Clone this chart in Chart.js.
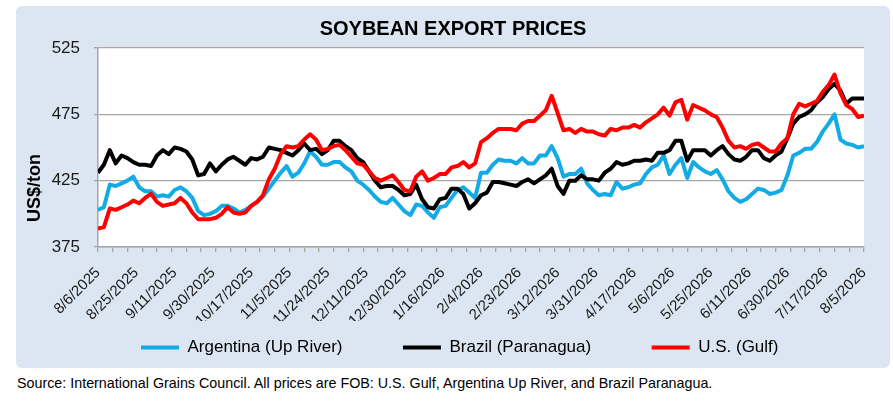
<!DOCTYPE html>
<html>
<head>
<meta charset="utf-8">
<title>Soybean Export Prices</title>
<script src="https://cdn.jsdelivr.net/npm/chart.js@4.4.1/dist/chart.umd.min.js"></script>
<style>
    html, body { margin: 0; padding: 0; background: #ffffff; }
    body { width: 893px; height: 401px; position: relative; overflow: hidden; font-family: 'Liberation Sans', Arial, sans-serif; }
    #panel { position: absolute; left: 16px; top: 6px; width: 874px; height: 362px; background: #dce6f2; border-radius: 6px; }
    #source { position: absolute; left: 17px; top: 375px; font-size: 14.3px; line-height: 16px; color: #000000; white-space: nowrap; }
</style>
</head>
<body>
<div id="panel"><canvas id="soyChart" width="874" height="362"></canvas></div>
<div id="source">Source: International Grains Council. All prices are FOB: U.S. Gulf, Argentina Up River, and Brazil Paranagua.</div>
<script>
// date labels shown on the x axis (one every 13 business days)
const tickLabels = ['8/6/2025', '8/25/2025', '9/11/2025', '9/30/2025', '10/17/2025', '11/5/2025',
    '11/24/2025', '12/11/2025', '12/30/2025', '1/16/2026', '2/4/2026', '2/23/2026', '3/12/2026',
    '3/31/2026', '4/17/2026', '5/6/2026', '5/25/2026', '6/11/2026', '6/30/2026', '7/17/2026', '8/5/2026'];
const labelEvery = 13;   // business days between date labels
const tickEvery = 5;     // business days between tick marks
const lastDay = 260;     // business-day index of 8/5/2026
const sampleStep = 2;    // values below are read every 2nd business day

const seriesNames = ['Argentina (Up River)', 'Brazil (Paranagua)', 'U.S. (Gulf)'];

// US$/ton
const argentina = [
    403, 405, 422, 421, 423, 425, 428, 420, 417, 417,
    413, 414, 413, 418, 420, 417, 412, 402, 399, 400,
    402, 406, 406, 404, 401, 403, 406, 409, 413, 419,
    425, 431, 436, 428, 431, 438, 447, 443, 437, 437,
    439, 439, 435, 432, 425, 422, 418, 413, 409, 408,
    412, 407, 402, 399, 407, 406, 401, 397, 405, 406,
    412, 418, 420, 416, 412, 431, 431, 437, 441, 440,
    440, 438, 442, 438, 438, 444, 444, 451, 442, 428,
    430, 430, 434, 423, 418, 414, 415, 414, 424, 419,
    420, 422, 423, 430, 435, 437, 444, 430, 437, 442,
    427, 439, 435, 432, 430, 433, 426, 417, 412, 409,
    411, 415, 419, 418, 415, 416, 418, 429, 444, 446,
    449, 449, 454, 462, 468, 475, 456, 453, 452, 450,
    451
];

const brazil = [
    431, 437, 448, 438, 444, 442, 439, 437, 437, 436,
    444, 448, 445, 450, 449, 447, 441, 429, 430, 438,
    432, 437, 441, 443, 440, 437, 442, 441, 443, 450,
    449, 448, 446, 444, 448, 453, 448, 449, 445, 448,
    455, 455, 451, 448, 442, 439, 432, 425, 420, 421,
    421, 418, 414, 415, 422, 411, 405, 404, 411, 412,
    419, 419, 415, 404, 408, 414, 416, 424, 424, 423,
    422, 421, 424, 426, 423, 426, 429, 434, 421, 415,
    425, 425, 429, 426, 426, 425, 431, 434, 439, 437,
    438, 440, 440, 441, 440, 446, 446, 448, 455, 455,
    440, 448, 448, 448, 444, 448, 451, 445, 441, 440,
    443, 448, 448, 442, 440, 444, 447, 457, 468, 473,
    475, 478, 484, 488, 494, 498, 493, 483, 487, 487,
    487
];

const usGulf = [
    389, 390, 404, 403, 405, 407, 410, 408, 412, 415,
    409, 406, 407, 408, 412, 408, 401, 396, 396, 396,
    397, 400, 405, 401, 400, 401, 406, 409, 414, 426,
    434, 445, 451, 450, 451, 456, 460, 456, 448, 449,
    451, 452, 448, 443, 438, 437, 432, 427, 425, 427,
    429, 424, 418, 417, 428, 432, 425, 427, 430, 430,
    435, 436, 439, 435, 438, 454, 457, 461, 464, 464,
    464, 463, 468, 470, 470, 474, 478, 489, 476, 463,
    464, 461, 464, 462, 462, 460, 459, 464, 463, 465,
    465, 467, 465, 469, 472, 475, 480, 474, 484, 486,
    471, 482, 480, 478, 475, 473, 465, 455, 450, 451,
    449, 452, 453, 450, 447, 447, 453, 457, 475, 483,
    481, 483, 485, 492, 497, 505, 491, 482, 479, 473,
    474
];

const seriesColors = ['#12abe6', '#000000', '#ff0000'];

function toPoints(values) {
    return values.map((v, k) => ({ x: k * sampleStep, y: v }));
}

// white plot area on the blue panel
const plotBackground = {
    id: 'plotBackground',
    beforeDraw(chart) {
        const { ctx, chartArea } = chart;
        ctx.save();
        ctx.fillStyle = '#ffffff';
        ctx.fillRect(chartArea.left, chartArea.top, chartArea.right - chartArea.left, chartArea.bottom - chartArea.top);
        ctx.restore();
    }
};

Chart.defaults.font.family = "'Liberation Sans', Arial, sans-serif";

const datasets = [argentina, brazil, usGulf].map((values, i) => ({
    label: seriesNames[i],
    data: toPoints(values),
    borderColor: seriesColors[i],
    backgroundColor: seriesColors[i],
    borderWidth: 4,
    pointRadius: 0,
    tension: 0,
    borderJoinStyle: 'round',
    order: 3 - i   // U.S. drawn on top
}));

// extra trailing gap after each legend entry (spaces)
const legendGaps = ['         ', '         ', '         '];

new Chart(document.getElementById('soyChart'), {
    type: 'line',
    data: { datasets: datasets },
    plugins: [plotBackground],
    options: {
        responsive: false,
        animation: false,
        layout: { padding: { left: 0, right: 0, top: 0, bottom: 2 } },
        plugins: {
            title: {
                display: true,
                text: 'SOYBEAN EXPORT PRICES',
                color: '#000000',
                font: { size: 20, weight: 'bold' },
                padding: { top: 11, bottom: 7 }
            },
            legend: {
                position: 'bottom',
                fullSize: false,
                labels: {
                    boxWidth: 38,
                    boxHeight: 4,
                    padding: 18,
                    color: '#000000',
                    font: { size: 17 },
                    sort: (a, b) => a.datasetIndex - b.datasetIndex,
                    generateLabels(chart) {
                        const items = Chart.defaults.plugins.legend.labels.generateLabels(chart);
                        items.forEach(item => {
                            item.lineWidth = 0;
                            item.text = item.text + legendGaps[item.datasetIndex];
                        });
                        return items;
                    }
                }
            },
            tooltip: { enabled: false }
        },
        scales: {
            x: {
                type: 'linear',
                min: 0,
                max: lastDay,
                afterBuildTicks(scale) {
                    const ticks = [];
                    for (let d = 0; d <= lastDay; d++) {
                        if (d % tickEvery === 0 || d % labelEvery === 0) ticks.push({ value: d });
                    }
                    scale.ticks = ticks;
                },
                ticks: {
                    autoSkip: false,
                    minRotation: 45,
                    maxRotation: 45,
                    padding: 12,
                    color: '#1a1a1a',
                    font: { size: 15 },
                    callback: (value) => value % labelEvery === 0 ? tickLabels[value / labelEvery] : ''
                },
                grid: {
                    drawOnChartArea: false,
                    tickLength: 5,
                    lineWidth: 1.3,
                    color: (c) => (c.tick && c.tick.value % tickEvery === 0) ? '#a6a6a6' : 'rgba(0,0,0,0)'
                },
                border: { color: '#a6a6a6', width: 1.5 },
                afterFit(scale) {
                    scale.height = 74;
                    scale.paddingLeft = 0;
                    scale.paddingRight = 26;
                }
            },
            y: {
                min: 375,
                max: 525,
                ticks: { stepSize: 50, padding: 14, color: '#1a1a1a', font: { size: 17 } },
                grid: { color: '#a6a6a6', lineWidth: 1.3, tickLength: 4 },
                border: { color: '#a6a6a6', width: 1.5 },
                title: {
                    display: true,
                    text: '     US$/ton',
                    align: 'start',
                    color: '#000000',
                    font: { size: 18, weight: 'bold' },
                    padding: { top: 8, bottom: 0 }
                },
                afterFit(scale) {
                    scale.width = 82;
                }
            }
        }
    }
});
</script>
</body>
</html>
